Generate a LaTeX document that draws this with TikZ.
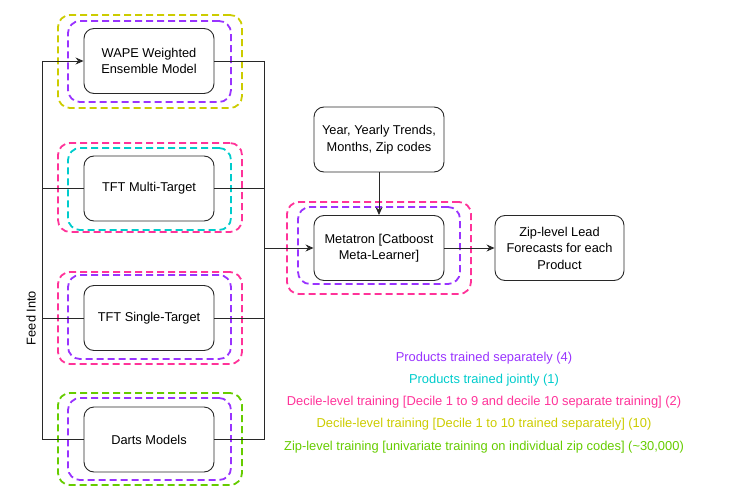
\documentclass[tikz,border=0pt]{standalone}
\usepackage{fontspec}
\setmainfont{Liberation Sans}
\usetikzlibrary{arrows.meta}
\definecolor{cpurple}{RGB}{153,51,255}
\definecolor{ccyan}{RGB}{0,204,204}
\definecolor{cpink}{RGB}{255,51,153}
\definecolor{cyellow}{RGB}{204,204,0}
\definecolor{cgreen}{RGB}{102,204,0}
\definecolor{cline}{RGB}{40,40,40}
\begin{document}
\begin{tikzpicture}[x=1pt,y=-1pt,
  every node/.style={font=\fontsize{12.8}{16.5}\selectfont},
  mbox/.style={draw=cline, line width=0.9pt, rounded corners=10pt, minimum width=130pt, minimum height=65pt, align=center, inner sep=2pt},
  ring/.style={draw=#1, line width=1.8pt, dash pattern=on 7pt off 4pt, rounded corners=12pt},
  conn/.style={draw=cline, line width=0.9pt},
  arr/.style={conn, -{Stealth[length=8pt,width=7pt]}},
  legend/.style={font=\fontsize{12.9}{15}\selectfont, text=#1}
]
\useasboundingbox (0,0) rectangle (735,500);
% dashed rings
\node[ring=cyellow, minimum width=184pt, minimum height=93pt] (wapeo) at (150,61.5) {};
\node[ring=cpurple, minimum width=163pt, minimum height=81pt] (wapei) at (149.5,61.5) {};
\node[ring=cpink, minimum width=184pt, minimum height=89pt] (tftmo) at (150,187.5) {};
\node[ring=ccyan, minimum width=163pt, minimum height=82pt] (tftmi) at (149.5,189) {};
\node[ring=cpink, minimum width=184pt, minimum height=92pt] (tftso) at (150,318) {};
\node[ring=cpurple, minimum width=163pt, minimum height=84pt] (tftsi) at (149.5,317) {};
\node[ring=cgreen, minimum width=184pt, minimum height=92pt] (dartso) at (150,439) {};
\node[ring=cpurple, minimum width=163pt, minimum height=82pt] (dartsi) at (149.5,439) {};
\node[ring=cpink, minimum width=184pt, minimum height=92pt] (metao) at (379,248) {};
\node[ring=cpurple, minimum width=162pt, minimum height=77pt] (metai) at (379,245.5) {};
% boxes
\node[mbox] (wape) at (149,61) {WAPE Weighted\\Ensemble Model};
\node[mbox] (tftm) at (149,188.5) {TFT Multi-Target};
\node[mbox] (tfts) at (149,318) {TFT Single-Target};
\node[mbox] (darts) at (149,439.5) {Darts Models};
\node[mbox] (year) at (379,139.5) {Year, Yearly Trends,\\Months, Zip codes};
\node[mbox] (meta) at (379,248) {Metatron [Catboost\\Meta-Learner]};
\node[mbox, minimum width=129pt] (zip) at (559.5,248) {Zip-level Lead\\Forecasts for each\\Product};
% connectors
\coordinate (ltop) at (42,61);
\coordinate (lbot) at (42,439.5);
\coordinate (rtop) at (264,61);
\coordinate (rbot) at (264,439.5);
\coordinate (rmid) at (264,248);
\draw[conn] (ltop) -- (lbot);
\draw[arr] (ltop) -- (wape);
\draw[conn] (ltop |- tftm) -- (tftm);
\draw[conn] (ltop |- tfts) -- (tfts);
\draw[conn] (lbot) -- (darts);
\draw[conn] (rtop) -- (rbot);
\draw[conn] (wape) -- (rtop);
\draw[conn] (tftm) -- (rtop |- tftm);
\draw[conn] (tfts) -- (rtop |- tfts);
\draw[conn] (darts) -- (rbot);
\draw[arr] (rmid) -- (meta);
\draw[arr] (year) -- (meta);
\draw[arr] (meta) -- (zip);
\node[rotate=90] (feed) at (31,318) {Feed Into};
% legend
\node[legend=cpurple] (l1) at (484,358) {Products trained separately (4)};
\node[legend=ccyan] (l2) at (484,380) {Products trained jointly (1)};
\node[legend=cpink] (l3) at (484,402) {Decile-level training [Decile 1 to 9 and decile 10 separate training] (2)};
\node[legend=cyellow] (l4) at (484,424) {Decile-level training [Decile 1 to 10 trained separately] (10)};
\node[legend=cgreen] (l5) at (484,447) {Zip-level training [univariate training on individual zip codes] (\textasciitilde 30,000)};
\end{tikzpicture}
\end{document}
